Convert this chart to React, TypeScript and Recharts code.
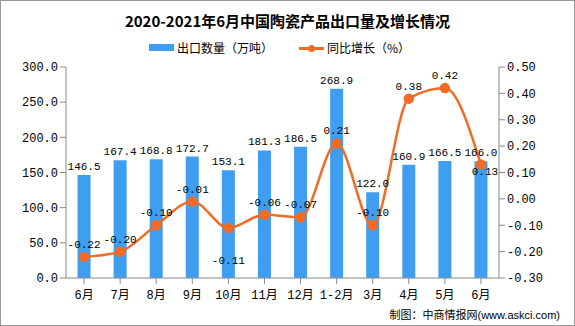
import { ComposedChart, Bar, Line, XAxis, YAxis, LabelList } from "recharts"

const months = ["6月", "7月", "8月", "9月", "10月", "11月", "12月", "1-2月", "3月", "4月", "5月", "6月"]
const exportVolume = [146.5, 167.4, 168.8, 172.7, 153.1, 181.3, 186.5, 268.9, 122.0, 160.9, 166.5, 166.0]
const yoyGrowth = [-0.22, -0.2, -0.1, -0.01, -0.11, -0.06, -0.07, 0.21, -0.1, 0.38, 0.42, 0.13]
const leftTicks = [0, 50, 100, 150, 200, 250, 300]
const rightTicks = [-0.3, -0.2, -0.1, 0, 0.1, 0.2, 0.3, 0.4, 0.5]

const data = months.map((m, i) => ({ month: m, volume: exportVolume[i], growth: yoyGrowth[i] }))

const mono = "'Liberation Mono', 'Noto Sans CJK SC', monospace"
const cjk = "'Noto Sans CJK SC', sans-serif"

// growth labels: most sit above the dot, a couple are nudged like the original
const GrowthLabel = (props: any) => {
  const { x, y, value, index } = props
  let dx = 0
  let dy = -9
  if (index === 4) dy = 36
  if (index === 11) {
    dx = 4
    dy = 10
  }
  return (
    <text x={x + dx} y={y + dy} textAnchor="middle" fontSize={11} fill="#000" fontFamily={mono}>
      {Number(value).toFixed(2)}
    </text>
  )
}

export default function App() {
  return (
    <div
      style={{
        position: "absolute",
        left: 0,
        top: 0,
        width: 573,
        height: 324,
        border: "1px solid #999",
        background: "#fff",
        fontFamily: cjk,
      }}
    >
      <div
        style={{
          position: "absolute",
          top: 9,
          width: "100%",
          textAlign: "center",
          fontSize: 15,
          fontWeight: "bold",
          color: "#000",
        }}
      >
        2020-2021年6月中国陶瓷产品出口量及增长情况
      </div>
      <div
        style={{
          position: "absolute",
          top: 38,
          left: 148,
          display: "flex",
          alignItems: "center",
          fontSize: 12,
          color: "#000",
        }}
      >
        <span style={{ display: "inline-block", width: 25, height: 7, background: "#409ef0", marginRight: 3 }} />
        <span>出口数量（万吨）</span>
        <span style={{ position: "relative", display: "inline-block", width: 25, height: 10, marginLeft: 26, marginRight: 3 }}>
          <span style={{ position: "absolute", left: 0, top: 4, width: 25, height: 3, background: "#f26a24" }} />
          <span style={{ position: "absolute", left: 9, top: 2, width: 7, height: 7, borderRadius: 4, background: "#f26a24" }} />
        </span>
        <span>同比增长（%）</span>
      </div>
      <ComposedChart
        width={573}
        height={324}
        data={data}
        margin={{ top: 66, right: 0, left: 0, bottom: 0 }}
        barCategoryGap="32%"
      >
        <XAxis
          dataKey="month"
          height={47}
          interval={0}
          tickLine={{ stroke: "#888" }}
          axisLine={{ stroke: "#888" }}
          tick={{ fontSize: 12, fill: "#000", fontFamily: mono, dy: 4 }}
        />
        <YAxis
          yAxisId="left"
          width={65}
          domain={[0, 300]}
          ticks={leftTicks}
          tickFormatter={(v: number) => v.toFixed(1)}
          axisLine={{ stroke: "#888" }}
          tickLine={{ stroke: "#888" }}
          tick={{ fontSize: 12, fill: "#000", fontFamily: mono }}
        />
        <YAxis
          yAxisId="right"
          orientation="right"
          width={75}
          domain={[-0.3, 0.5]}
          ticks={rightTicks}
          tickFormatter={(v: number) => v.toFixed(2)}
          axisLine={{ stroke: "#888" }}
          tickLine={{ stroke: "#888" }}
          tick={{ fontSize: 12, fill: "#000", fontFamily: mono }}
        />
        <Bar yAxisId="left" dataKey="volume" fill="#409ef0" isAnimationActive={false}>
          <LabelList
            dataKey="volume"
            position="top"
            formatter={(v: number) => v.toFixed(1)}
            style={{ fontSize: 11, fill: "#000", fontFamily: mono }}
          />
        </Bar>
        <Line
          yAxisId="right"
          type="monotone"
          dataKey="growth"
          stroke="#f26a24"
          strokeWidth={2.5}
          dot={{ r: 4, fill: "#f26a24", stroke: "#f26a24" }}
          isAnimationActive={false}
        >
          <LabelList dataKey="growth" content={GrowthLabel} />
        </Line>
      </ComposedChart>
      <div
        style={{
          position: "absolute",
          right: 14,
          bottom: 3,
          fontSize: 11,
          color: "#000",
        }}
      >
        制图：中商情报网<span style={{ fontFamily: "Arial, 'Liberation Sans', sans-serif" }}>(www.askci.com)</span>
      </div>
    </div>
  )
}
